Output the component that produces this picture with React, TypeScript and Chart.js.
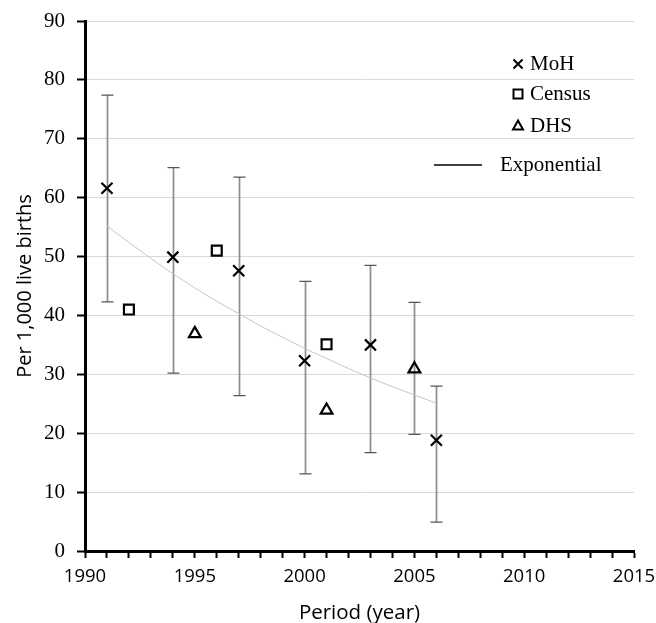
import React, { useEffect, useRef } from 'react';
import { Chart, registerables } from 'chart.js';

Chart.register(...registerables);

// ---- Data ----
const mohYears = [1991, 1994, 1997, 2000, 2003, 2006];
const mohValues = [61.6, 49.9, 47.6, 32.3, 35.0, 18.8];
const mohLow = [42.3, 30.2, 26.4, 13.1, 16.7, 4.9];
const mohHigh = [77.4, 65.1, 63.5, 45.8, 48.5, 28.0];

const censusYears = [1992, 1996, 2001];
const censusValues = [41.0, 51.0, 35.1];

const dhsYears = [1995, 2001, 2005];
const dhsValues = [36.9, 23.9, 30.9];
const dhsLow: (number | null)[] = [null, null, 19.8];
const dhsHigh: (number | null)[] = [null, null, 42.2];

const trendYears = [1991, 1992, 1993, 1994, 1995, 1996, 1997, 1998, 1999, 2000, 2001, 2002, 2003, 2004, 2005, 2006];
const trendValues = [55.2, 52.4, 49.7, 47.1, 44.7, 42.4, 40.3, 38.2, 36.3, 34.4, 32.7, 31.0, 29.4, 27.9, 26.5, 25.1];

const xLabelYears = [1990, 1995, 2000, 2005, 2010, 2015];
const seriesLabels = ['MoH', 'Census', 'DHS', 'Exponential'];

const SANS = '"Open Sans", "Noto Sans", sans-serif';
const SERIF = '"Liberation Serif", "DejaVu Serif", serif';

const errorBarPlugin = {
  id: 'errorBars',
  beforeDatasetsDraw(chart: any) {
    const { ctx, scales } = chart;
    const x = scales.x;
    const y = scales.y;
    const groups: [number[], (number | null)[], (number | null)[]][] = [
      [mohYears, mohLow, mohHigh],
      [dhsYears, dhsLow, dhsHigh],
    ];
    ctx.save();
    for (const [yrs, lo, hi] of groups) {
      yrs.forEach((yr, i) => {
        const l = lo[i];
        const h = hi[i];
        if (l == null || h == null) return;
        const px = Math.round(x.getPixelForValue(yr)) + 0.5;
        const pLo = y.getPixelForValue(l);
        const pHi = y.getPixelForValue(h);
        ctx.strokeStyle = '#8f8f8f';
        ctx.lineWidth = 1.75;
        ctx.beginPath();
        ctx.moveTo(px, pLo);
        ctx.lineTo(px, pHi);
        ctx.stroke();
        ctx.strokeStyle = '#555555';
        ctx.lineWidth = 1.25;
        ctx.beginPath();
        ctx.moveTo(px - 6, pLo);
        ctx.lineTo(px + 6, pLo);
        ctx.moveTo(px - 6, pHi);
        ctx.lineTo(px + 6, pHi);
        ctx.stroke();
      });
    }
    ctx.restore();
  },
};

const legendPlugin = {
  id: 'customLegend',
  afterDraw(chart: any) {
    const { ctx } = chart;
    ctx.save();
    ctx.font = `21px ${SERIF}`;
    ctx.fillStyle = '#000';
    ctx.strokeStyle = '#000';
    ctx.textBaseline = 'middle';
    ctx.textAlign = 'left';
    const mx = 518;
    const tx = 530;
    const rows = [64, 94, 126];
    // MoH cross
    ctx.lineWidth = 2;
    ctx.beginPath();
    ctx.moveTo(mx - 4.5, rows[0] - 4.5);
    ctx.lineTo(mx + 4.5, rows[0] + 4.5);
    ctx.moveTo(mx + 4.5, rows[0] - 4.5);
    ctx.lineTo(mx - 4.5, rows[0] + 4.5);
    ctx.stroke();
    ctx.fillText(seriesLabels[0], tx, rows[0]);
    // Census square
    ctx.strokeRect(mx - 4.5, rows[1] - 4.5, 9, 9);
    ctx.fillText(seriesLabels[1], tx, rows[1]);
    // DHS triangle
    ctx.beginPath();
    ctx.moveTo(mx, rows[2] - 5.5);
    ctx.lineTo(mx + 5, rows[2] + 3.5);
    ctx.lineTo(mx - 5, rows[2] + 3.5);
    ctx.closePath();
    ctx.stroke();
    ctx.fillText(seriesLabels[2], tx, rows[2]);
    // Exponential line
    ctx.lineWidth = 1.5;
    ctx.beginPath();
    ctx.moveTo(434, 165);
    ctx.lineTo(482, 165);
    ctx.stroke();
    ctx.fillText(seriesLabels[3], 500, 165);
    ctx.restore();
  },
};

export default function App() {
  const canvasRef = useRef<HTMLCanvasElement | null>(null);

  useEffect(() => {
    const canvas = canvasRef.current;
    if (!canvas) return;
    const chart = new Chart(canvas, {
      type: 'scatter',
      data: {
        datasets: [
          {
            label: seriesLabels[0],
            data: mohYears.map((x, i) => ({ x, y: mohValues[i] })),
            pointStyle: 'crossRot',
            pointRadius: 7.8,
            pointBorderWidth: 2.2,
            borderColor: '#000',
            backgroundColor: 'rgba(0,0,0,0)',
            showLine: false,
            order: 1,
          },
          {
            label: seriesLabels[1],
            data: censusYears.map((x, i) => ({ x, y: censusValues[i] })),
            pointStyle: 'rect',
            pointRadius: 7,
            pointBorderWidth: 2.2,
            borderColor: '#000',
            backgroundColor: 'rgba(0,0,0,0)',
            showLine: false,
            order: 2,
          },
          {
            label: seriesLabels[2],
            data: dhsYears.map((x, i) => ({ x, y: dhsValues[i] })),
            pointStyle: 'triangle',
            pointRadius: 6.8,
            pointBorderWidth: 2.2,
            borderColor: '#000',
            backgroundColor: 'rgba(0,0,0,0)',
            showLine: false,
            order: 3,
          },
          {
            type: 'line',
            label: seriesLabels[3],
            data: trendYears.map((x, i) => ({ x, y: trendValues[i] })),
            borderColor: '#c4c4c4',
            borderWidth: 1,
            pointRadius: 0,
            fill: false,
            tension: 0.3,
            showLine: true,
            order: 4,
          } as any,
        ],
      },
      options: {
        responsive: false,
        animation: false,
        devicePixelRatio: 1,
        layout: { padding: { top: 21, right: 22, left: 0, bottom: 0 } },
        plugins: { legend: { display: false }, tooltip: { enabled: false } },
        scales: {
          x: {
            type: 'linear',
            min: 1990,
            max: 2015,
            ticks: {
              stepSize: 1,
              autoSkip: false,
              maxRotation: 0,
              minRotation: 0,
              padding: 8,
              color: '#000',
              font: { family: SANS, size: 18.5 },
              callback: (v: any) => (xLabelYears.includes(Number(v)) ? String(v) : ''),
            },
            grid: {
              drawOnChartArea: false,
              drawTicks: true,
              tickLength: 7,
              tickColor: '#000',
              tickWidth: 2,
            },
            border: { color: '#000', width: 3 },
            title: {
              display: true,
              text: 'Period (year)',
              color: '#000',
              font: { family: SANS, size: 20.5, lineHeight: 1.0 },
              padding: 0,
            },
            afterFit(s: any) {
              s.height = 72;
              s.paddingLeft = 0;
              s.paddingRight = 0;
            },
          },
          y: {
            type: 'linear',
            min: 0,
            max: 90,
            ticks: {
              stepSize: 10,
              padding: 12,
              color: '#000',
              font: { family: SERIF, size: 21 },
            },
            grid: {
              color: '#d9d9d9',
              lineWidth: 1,
              tickColor: '#000',
              tickWidth: 2,
              tickLength: 8,
            },
            border: { color: '#000', width: 3 },
            title: {
              display: true,
              text: 'Per 1,000 live births',
              color: '#000',
              font: { family: SANS, size: 20, lineHeight: 1.2 },
              padding: { top: 13, bottom: 0 },
            },
            afterFit(s: any) {
              s.width = 85;
              s.paddingTop = 0;
              s.paddingBottom = 0;
            },
          },
        },
      } as any,
      plugins: [errorBarPlugin, legendPlugin],
    });
    return () => chart.destroy();
  }, []);

  return (
    <div style={{ position: 'fixed', left: 0, top: 0, width: 656, height: 623, background: '#fff' }}>
      <canvas ref={canvasRef} width={656} height={623} style={{ display: 'block', width: 656, height: 623 }} />
    </div>
  );
}
